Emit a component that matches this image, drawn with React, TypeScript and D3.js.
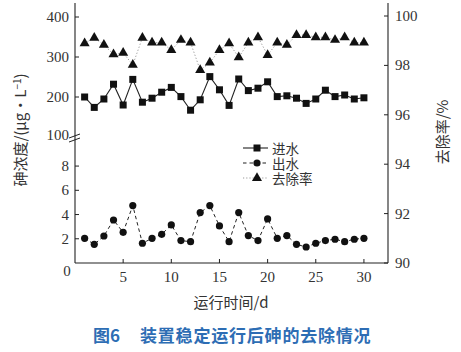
import { useMemo } from 'react';
import * as d3 from 'd3';

// days 1..30
const days = d3.range(1, 31);

// inflow arsenic (µg/L), upper left segment
const inflow = [
  200, 174, 195, 232, 180, 244, 187, 197, 212, 224,
  201, 167, 193, 251, 218, 179, 245, 216, 222, 238,
  201, 203, 197, 184, 195, 217, 201, 205, 195, 198,
];

// effluent arsenic (µg/L), lower left segment
const effluent = [
  2.04, 1.54, 2.23, 3.55, 2.53, 4.74, 1.63, 2.04, 2.37, 3.14,
  1.85, 1.76, 4.16, 4.74, 3.06, 1.76, 4.16, 2.26, 1.85, 3.64,
  2.04, 2.26, 1.54, 1.32, 1.63, 1.85, 1.96, 1.76, 1.96, 2.04,
];

// removal rate (%), right axis
const removal = [
  98.89, 99.12, 98.83, 98.45, 98.51, 98.02, 99.12, 98.92, 98.92, 98.62,
  99.03, 98.92, 97.81, 98.11, 98.62, 98.89, 98.33, 98.92, 99.14, 98.42,
  98.92, 98.83, 99.23, 99.23, 99.14, 99.14, 99.03, 99.14, 98.92, 98.92,
];

const xTicks = [5, 10, 15, 20, 25, 30];
const lowTicks = [2, 4, 6, 8];
const highTicks = [200, 300, 400];
const rateTicks = [90, 92, 94, 96, 98, 100];

const legendItems = ['进水', '出水', '去除率'];

const W = 461;
const H = 352;
const left = 75;
const right = 388;
const bottom = 263;
const top = 3;
const breakY = 137;

const ink = '#222';
const serif = '"Liberation Serif", "DejaVu Serif", serif';
const cjk = '"Noto Sans CJK SC", sans-serif';

export default function App() {
  const x = useMemo(() => d3.scaleLinear().domain([0, 32.5]).range([left, right]), []);
  const yLow = useMemo(() => d3.scaleLinear().domain([0, 10.4]).range([bottom, breakY]), []);
  const yHigh = useMemo(() => d3.scaleLinear().domain([100, 400]).range([breakY, 17]), []);
  const yRate = useMemo(() => d3.scaleLinear().domain([90, 100]).range([bottom, 16]), []);

  const lineIn = d3.line<number>().x((_d, i) => x(days[i])).y(d => yHigh(d));
  const lineOut = d3.line<number>().x((_d, i) => x(days[i])).y(d => yLow(d));
  const lineRate = d3.line<number>().x((_d, i) => x(days[i])).y(d => yRate(d));
  const tri = d3.symbol().type(d3.symbolTriangle).size(44)() as string;

  const legendY = [148, 163, 178];

  return (
    <div style={{ position: 'absolute', left: 0, top: 0 }}>
      <svg width={W} height={H} style={{ display: 'block', background: '#fff' }}>
        {/* axes */}
        <line x1={left} y1={top} x2={left} y2={bottom} stroke={ink} strokeWidth={1.1} />
        <line x1={right} y1={top} x2={right} y2={bottom} stroke={ink} strokeWidth={1.1} />
        <line x1={left} y1={bottom} x2={right} y2={bottom} stroke={ink} strokeWidth={1.1} />

        {/* axis break */}
        <line x1={left - 6} y1={breakY + 1} x2={left + 5} y2={breakY - 3} stroke={ink} strokeWidth={1} />
        <line x1={left - 6} y1={breakY + 5} x2={left + 5} y2={breakY + 1} stroke={ink} strokeWidth={1} />

        {/* x ticks */}
        {xTicks.map(t => (
          <g key={'x' + t}>
            <line x1={x(t)} x2={x(t)} y1={bottom} y2={bottom - 4} stroke={ink} />
            <text x={x(t)} y={282} textAnchor="middle" fontFamily={serif} fontSize={15} fill="#333">{t}</text>
          </g>
        ))}
        <text x={67} y={276} textAnchor="middle" fontFamily={serif} fontSize={15} fill="#333">0</text>

        {/* left ticks */}
        {lowTicks.map(t => (
          <g key={'l' + t}>
            <line x1={left} x2={left + 4} y1={yLow(t)} y2={yLow(t)} stroke={ink} />
            <text x={69} y={yLow(t) + 5} textAnchor="end" fontFamily={serif} fontSize={15} fill="#333">{t}</text>
          </g>
        ))}
        {highTicks.map(t => (
          <g key={'h' + t}>
            <line x1={left} x2={left + 4} y1={yHigh(t)} y2={yHigh(t)} stroke={ink} />
            <text x={69} y={yHigh(t) + 5} textAnchor="end" fontFamily={serif} fontSize={15} fill="#333">{t}</text>
          </g>
        ))}
        <text x={69} y={yHigh(100) + 3} textAnchor="end" fontFamily={serif} fontSize={15} fill="#333">100</text>

        {/* right ticks */}
        {rateTicks.map(t => (
          <g key={'r' + t}>
            <line x1={right - 4} x2={right} y1={yRate(t)} y2={yRate(t)} stroke={ink} />
            <text x={395} y={yRate(t) + 5} fontFamily={serif} fontSize={15} fill="#333">{t}</text>
          </g>
        ))}

        {/* series */}
        <path d={lineRate(removal) ?? ''} fill="none" stroke="#999" strokeWidth={1} strokeDasharray="1.2,2" />
        <path d={lineIn(inflow) ?? ''} fill="none" stroke={ink} strokeWidth={1.1} />
        <path d={lineOut(effluent) ?? ''} fill="none" stroke={ink} strokeWidth={1} strokeDasharray="3.5,3" />

        {inflow.map((v, i) => (
          <rect key={'s' + i} x={x(days[i]) - 3.5} y={yHigh(v) - 3.5} width={7} height={7} fill="#111" />
        ))}
        {effluent.map((v, i) => (
          <circle key={'c' + i} cx={x(days[i])} cy={yLow(v)} r={3.6} fill="#111" />
        ))}
        {removal.map((v, i) => (
          <path key={'t' + i} d={tri} transform={`translate(${x(days[i])},${yRate(v)})`} fill="#111" />
        ))}

        {/* legend */}
        {legendItems.map((name, i) => (
          <g key={name} transform={`translate(0,${legendY[i]})`}>
            <line
              x1={243}
              x2={268}
              y1={0}
              y2={0}
              stroke={i === 2 ? '#999' : ink}
              strokeWidth={1.1}
              strokeDasharray={i === 0 ? undefined : i === 1 ? '3.5,3' : '1.2,2'}
            />
            {i === 0 && <rect x={253.5} y={-3.5} width={7} height={7} fill="#111" />}
            {i === 1 && <circle cx={257} cy={0} r={3.6} fill="#111" />}
            {i === 2 && <path d={tri} transform="translate(257,0)" fill="#111" />}
            <text x={272} y={0} dominantBaseline="central" fontFamily={cjk} fontSize={13.5} fill="#333">{name}</text>
          </g>
        ))}

        {/* axis titles */}
        <text
          transform="translate(26,130) rotate(-90)"
          textAnchor="middle"
          fontFamily={cjk}
          fontSize={15}
          fill="#333"
        >
          砷浓度/(μg·L<tspan dy={-5} fontSize={10}>−1</tspan><tspan dy={5}>)</tspan>
        </text>
        <text
          transform="translate(448,132) rotate(-90)"
          textAnchor="middle"
          fontFamily={cjk}
          fontSize={15}
          fill="#333"
        >
          去除率/%
        </text>
        <text x={231} y={308} textAnchor="middle" fontFamily={cjk} fontSize={15} fill="#333">运行时间/d</text>

        {/* caption */}
        <text x={93} y={342} fontFamily={cjk} fontSize={17} fontWeight="bold" fill="#2d6db4">图6</text>
        <text x={140} y={342} fontFamily={cjk} fontSize={17} fontWeight="bold" fill="#2d6db4" letterSpacing={0.8}>
          装置稳定运行后砷的去除情况
        </text>
      </svg>
    </div>
  );
}
